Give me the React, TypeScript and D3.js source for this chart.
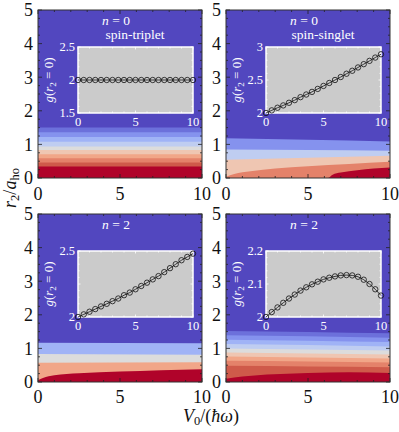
import React from 'react';
import * as d3 from 'd3';

// contour colours, from the low (blue) end to the high (dark red) end
const palette = [
  '#5247bf', '#6c70db', '#8592ee', '#a0b3f6', '#bfcdf1', '#dcdcdc',
  '#efc6b2', '#f1a688', '#e4826a', '#cf5a4a', '#b0032a',
];

// sample points of V0 for the insets
const v0Samples = [0, 0.5, 1, 1.5, 2, 2.5, 3, 3.5, 4, 4.5, 5, 5.5, 6, 6.5, 7, 7.5, 8, 8.5, 9, 9.5, 10];

// g(r2 = 0)
const gTriplet = [2, 2, 2, 2, 2, 2, 2, 2, 2, 2, 2, 2, 2, 2, 2, 2, 2, 2, 2, 2, 2];
const gSinglet = [2.0, 2.04, 2.08, 2.115, 2.155, 2.195, 2.24, 2.28, 2.32, 2.365, 2.41, 2.455, 2.5, 2.545, 2.595, 2.64, 2.69, 2.74, 2.79, 2.84, 2.89];
const gN2Left = [2.0, 2.02, 2.04, 2.06, 2.08, 2.1, 2.12, 2.14, 2.165, 2.185, 2.21, 2.235, 2.26, 2.285, 2.31, 2.34, 2.37, 2.4, 2.43, 2.455, 2.48];
const gN2Right = [2.0, 2.015, 2.029, 2.043, 2.056, 2.068, 2.08, 2.09, 2.099, 2.107, 2.114, 2.119, 2.123, 2.126, 2.127, 2.126, 2.122, 2.113, 2.1, 2.084, 2.065];

// contour boundaries [V0, r2], top to bottom, and the colour index below each
type Pt = [number, number];
const triplet: Pt[][] = [1.5, 1.36, 1.22, 1.08, 0.94, 0.83, 0.71, 0.59, 0.46, 0.34].map((v) => [[0, v], [10, v]] as Pt[]);
const tripletColors = [1, 2, 3, 4, 5, 6, 7, 8, 9, 10];

const singlet: Pt[][] = [
  [[0, 1.18], [5, 1.14], [10, 1.09]],
  [[0, 0.85], [5, 0.83], [10, 0.81]],
  [[0, 0.54], [5, 0.6], [10, 0.66]],
  [[0, 0.04], [0.5, 0.12], [1.5, 0.2], [3, 0.28], [5, 0.35], [7.5, 0.42], [10, 0.48]],
  [[0, 0], [6.2, 0], [6.5, 0.1], [7, 0.16], [8, 0.23], [9, 0.28], [10, 0.31]],
];
const singletColors = [2, 4, 6, 8, 10];

const n2Left: Pt[][] = [
  [[0, 1.17], [10, 1.15]],
  [[0, 0.83], [10, 0.81]],
  [[0, 0.57], [10, 0.59]],
  [[0, 0.05], [0.3, 0.12], [1, 0.2], [2.5, 0.26], [5, 0.31], [7.5, 0.35], [10, 0.38]],
];
const n2LeftColors = [3, 5, 7, 10];

const n2Right: Pt[][] = [
  [[0, 1.52], [5, 1.49], [10, 1.45]],
  [[0, 1.39], [5, 1.36], [10, 1.32]],
  [[0, 1.26], [5, 1.23], [10, 1.19]],
  [[0, 1.13], [5, 1.1], [10, 1.06]],
  [[0, 1.0], [5, 0.97], [10, 0.94]],
  [[0, 0.88], [5, 0.85], [10, 0.82]],
  [[0, 0.76], [5, 0.73], [10, 0.7]],
  [[0, 0.63], [5, 0.61], [10, 0.58]],
  [[0, 0.48], [5, 0.46], [10, 0.44]],
  [[0, 0.1], [1, 0.16], [2.5, 0.22], [5, 0.27], [7.5, 0.29], [10, 0.27]],
];
const n2RightColors = [1, 2, 3, 4, 5, 6, 7, 8, 9, 10];

const panels = [
  { px: 38, py: 10, bounds: triplet, colors: tripletColors, g: gTriplet, gDomain: [1.5, 2.5], gTicks: ['1.5', '2', '2.5'], n: '0', spin: 'spin-triplet' },
  { px: 226, py: 10, bounds: singlet, colors: singletColors, g: gSinglet, gDomain: [2, 3], gTicks: ['2', '2.5', '3'], n: '0', spin: 'spin-singlet' },
  { px: 38, py: 214, bounds: n2Left, colors: n2LeftColors, g: gN2Left, gDomain: [2, 2.5], gTicks: ['2', '2.5'], n: '2', spin: '' },
  { px: 226, py: 214, bounds: n2Right, colors: n2RightColors, g: gN2Right, gDomain: [2, 2.2], gTicks: ['2', '2.1', '2.2'], n: '2', spin: '' },
];

const pw = 164;
const ph = 168;
const inset = { x: 40, y: 37, w: 115, h: 66 };
const serif = '"Times New Roman", "Liberation Serif", Times, serif';

function Panel({ p, idx }: { p: (typeof panels)[number]; idx: number }) {
  const x = d3.scaleLinear().domain([0, 10]).range([0, pw]);
  const y = d3.scaleLinear().domain([0, 5]).range([ph, 0]);
  const area = d3
    .area<Pt>()
    .x((d) => x(d[0]))
    .y0(y(0))
    .y1((d) => y(d[1]))
    .curve(d3.curveMonotoneX);

  const ix = d3.scaleLinear().domain([0, 10]).range([0, inset.w]);
  const iy = d3.scaleLinear().domain(p.gDomain).range([inset.h, 0]);
  const pts: Pt[] = v0Samples.map((v, i) => [v, p.g[i]]);
  const line = d3
    .line<Pt>()
    .x((d) => ix(d[0]))
    .y((d) => iy(d[1]));

  const xMinor = d3.range(0, 10.01, 1);
  const yMinor = d3.range(0, 5.01, 0.25);
  const ixMinor = d3.range(0, 10.01, 1);
  const [g0, g1] = p.gDomain;
  const iyMinor = d3.range(g0, g1 + 1e-6, (g1 - g0) / 10);
  const clipId = `clip${idx}`;
  const bottomRow = idx >= 2;

  return (
    <g transform={`translate(${p.px},${p.py})`}>
      <defs>
        <clipPath id={clipId}>
          <rect width={pw} height={ph} />
        </clipPath>
      </defs>
      <g clipPath={`url(#${clipId})`}>
        <rect width={pw} height={ph} fill={palette[0]} />
        {p.bounds.map((b, i) => (
          <path key={i} d={area(b) || ''} fill={palette[p.colors[i]]} />
        ))}
      </g>
      {/* frame ticks */}
      {xMinor.map((t) => {
        const len = t % 5 === 0 ? 4 : 2;
        return (
          <g key={'x' + t} stroke="#222" strokeWidth={0.8}>
            <line x1={x(t)} x2={x(t)} y1={ph} y2={ph - len} />
            <line x1={x(t)} x2={x(t)} y1={0} y2={len} />
          </g>
        );
      })}
      {yMinor.map((t) => {
        const len = Math.abs(t - Math.round(t)) < 1e-6 ? 4 : 2;
        return (
          <g key={'y' + t} stroke="#222" strokeWidth={0.8}>
            <line x1={0} x2={len} y1={y(t)} y2={y(t)} />
            <line x1={pw} x2={pw - len} y1={y(t)} y2={y(t)} />
          </g>
        );
      })}
      <rect width={pw} height={ph} fill="none" stroke="#333" strokeWidth={1} />
      {/* main tick labels */}
      {[0, 5, 10].map((t) => (
        <text key={'xl' + t} x={x(t)} y={ph + (bottomRow ? 21 : 22)} textAnchor="middle" fontFamily={serif} fontSize={18} fill="#111">
          {t}
        </text>
      ))}
      {[0, 1, 2, 3, 4, 5].map((t) => (
        <text key={'yl' + t} x={-5} y={y(t)} dy="0.35em" textAnchor="end" fontFamily={serif} fontSize={18} fill="#111">
          {t}
        </text>
      ))}
      {/* labels inside */}
      <text x={78} y={15} textAnchor="middle" fontFamily={serif} fontSize={13.5} fill="#fff">
        <tspan fontStyle="italic">n</tspan> = {p.n}
      </text>
      {p.spin && (
        <text x={97} y={29} textAnchor="middle" fontFamily={serif} fontSize={13.5} fill="#fff">
          {p.spin}
        </text>
      )}
      {/* inset */}
      <g transform={`translate(${inset.x},${inset.y})`}>
        <rect width={inset.w} height={inset.h} fill="#cbcbcb" />
        {ixMinor.map((t) => {
          const len = t % 5 === 0 ? 2.5 : 1.5;
          return (
            <g key={'ix' + t} stroke="#fff" strokeWidth={0.8}>
              <line x1={ix(t)} x2={ix(t)} y1={inset.h} y2={inset.h - len} />
              <line x1={ix(t)} x2={ix(t)} y1={0} y2={len} />
            </g>
          );
        })}
        {iyMinor.map((t, i) => {
          const len = i % 5 === 0 ? 2.5 : 1.5;
          return (
            <g key={'iy' + i} stroke="#fff" strokeWidth={0.8}>
              <line x1={0} x2={len} y1={iy(t)} y2={iy(t)} />
              <line x1={inset.w} x2={inset.w - len} y1={iy(t)} y2={iy(t)} />
            </g>
          );
        })}
        <rect width={inset.w} height={inset.h} fill="none" stroke="#fff" strokeWidth={1.5} />
        <path d={line(pts) || ''} fill="none" stroke="#111" strokeWidth={0.8} />
        {pts.map((d, i) => (
          <circle key={i} cx={ix(d[0])} cy={iy(d[1])} r={2.7} fill="none" stroke="#111" strokeWidth={0.8} />
        ))}
        {[0, 5, 10].map((t) => (
          <text key={'ixl' + t} x={ix(t)} y={inset.h + 13} textAnchor="middle" fontFamily={serif} fontSize={12.5} fill="#fff">
            {t}
          </text>
        ))}
        {p.gTicks.map((t) => (
          <text key={'iyl' + t} x={-3} y={iy(+t)} dy="0.35em" textAnchor="end" fontFamily={serif} fontSize={12.5} fill="#fff">
            {t}
          </text>
        ))}
        <text
          transform={`translate(${-25},${inset.h / 2}) rotate(-90)`}
          textAnchor="middle"
          fontFamily={serif}
          fontSize={13}
          fill="#fff"
        >
          <tspan fontStyle="italic">g</tspan>(<tspan fontStyle="italic">r</tspan>
          <tspan fontSize={9} dy={3}>2</tspan>
          <tspan dy={-3}> = 0)</tspan>
        </text>
      </g>
    </g>
  );
}

export default function App() {
  return (
    <svg width={399} height={432} style={{ position: 'absolute', left: 0, top: 0, background: '#fff' }}>
      <rect width={399} height={432} fill="#fff" />
      {panels.map((p, i) => (
        <Panel key={i} p={p} idx={i} />
      ))}
      <text x={211} y={422} textAnchor="middle" fontFamily={serif} fontSize={18} fill="#111">
        <tspan fontStyle="italic">V</tspan>
        <tspan fontSize={12.5} dy={3}>0</tspan>
        <tspan dy={-3}>/(</tspan>
        <tspan fontStyle="italic">ħω</tspan>
        <tspan>)</tspan>
      </text>
      <text transform="translate(16,188) rotate(-90)" textAnchor="middle" fontFamily={serif} fontSize={18} fill="#111">
        <tspan fontStyle="italic">r</tspan>
        <tspan fontSize={12.5} dy={3}>2</tspan>
        <tspan dy={-3}>/</tspan>
        <tspan fontStyle="italic">a</tspan>
        <tspan fontSize={12.5} dy={3}>ho</tspan>
      </text>
    </svg>
  );
}
